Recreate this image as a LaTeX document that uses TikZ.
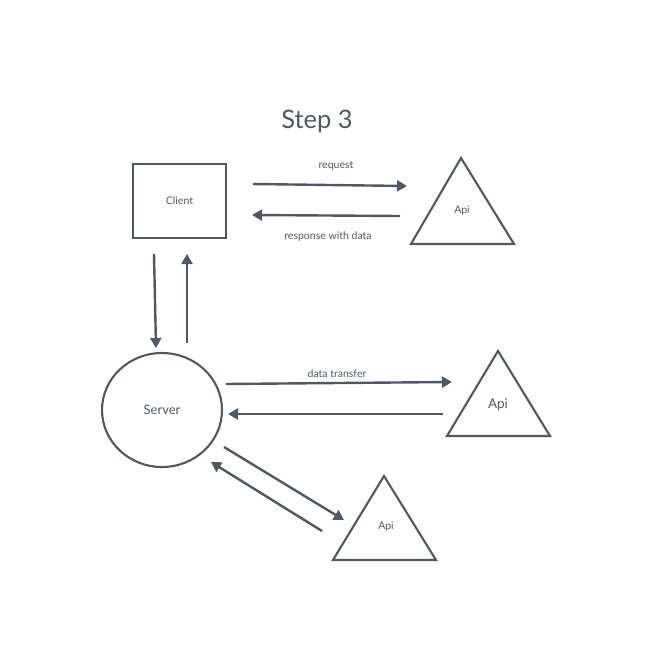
\documentclass[tikz,border=0pt]{standalone}
\usepackage{fontspec}
\setmainfont{Lato}
\usetikzlibrary{arrows.meta,shapes.geometric}
\definecolor{ink}{HTML}{505868}
\tikzset{
  conn/.style={draw=ink,line width=2.4pt,-{Triangle[length=10pt,width=11pt]}},
  shp/.style={draw=ink,line width=2.1pt},
  lbl/.style={text=ink,font=\fontsize{10.5}{12}\selectfont},
}
\begin{document}
\begin{tikzpicture}[x=1pt,y=-1pt]
\useasboundingbox (0,0) rectangle (652,665);
% title
\node[text=ink,font=\fontsize{25.5}{30}\selectfont] (title) at (317,121) {Step 3};
% client
\node[shp,minimum width=93pt,minimum height=74pt,lbl] (client) at (179.5,201) {Client};
% server
\node[shp,ellipse,minimum width=120pt,minimum height=114pt,lbl,font=\fontsize{13}{15}\selectfont] (server) at (162,410) {Server};
% triangles
\draw[shp,line join=miter] (461,158) -- (514,244) -- (411,244) -- cycle;
\node[lbl] (api1) at (462,211) {Api};
\draw[shp] (498,351) -- (550,436) -- (447,436) -- cycle;
\node[lbl,font=\fontsize{13.5}{15}\selectfont] (api2) at (498,405) {Api};
\draw[shp] (384,476) -- (436,560) -- (333,560) -- cycle;
\node[lbl] (api3) at (386,527) {Api};
% endpoints
\coordinate (r1s) at (253,184); \coordinate (r1e) at (407,186);
\coordinate (r2s) at (400,216); \coordinate (r2e) at (252,215);
\coordinate (d1s) at (154,254); \coordinate (d1e) at (156,348);
\coordinate (u1s) at (187,343); \coordinate (u1e) at (187,254);
\coordinate (t1s) at (226,384); \coordinate (t1e) at (452,382);
\coordinate (t2s) at (443,414); \coordinate (t2e) at (228,414);
\coordinate (g1s) at (224,447); \coordinate (g1e) at (344,520);
\coordinate (g2s) at (322,531); \coordinate (g2e) at (211,462);
\draw[conn] (r1s) -- (r1e);
\draw[conn] (r2s) -- (r2e);
\draw[conn] (d1s) -- (d1e);
\draw[conn] (u1s) -- (u1e);
\draw[conn] (t1s) -- (t1e);
\draw[conn] (t2s) -- (t2e);
\draw[conn] (g1s) -- (g1e);
\draw[conn] (g2s) -- (g2e);
% labels
\node[lbl] (lreq) at (336,166) {request};
\node[lbl] (lresp) at (328,237) {response with data};
\node[lbl] (ldt) at (337,374) {data transfer};
\end{tikzpicture}
\end{document}
